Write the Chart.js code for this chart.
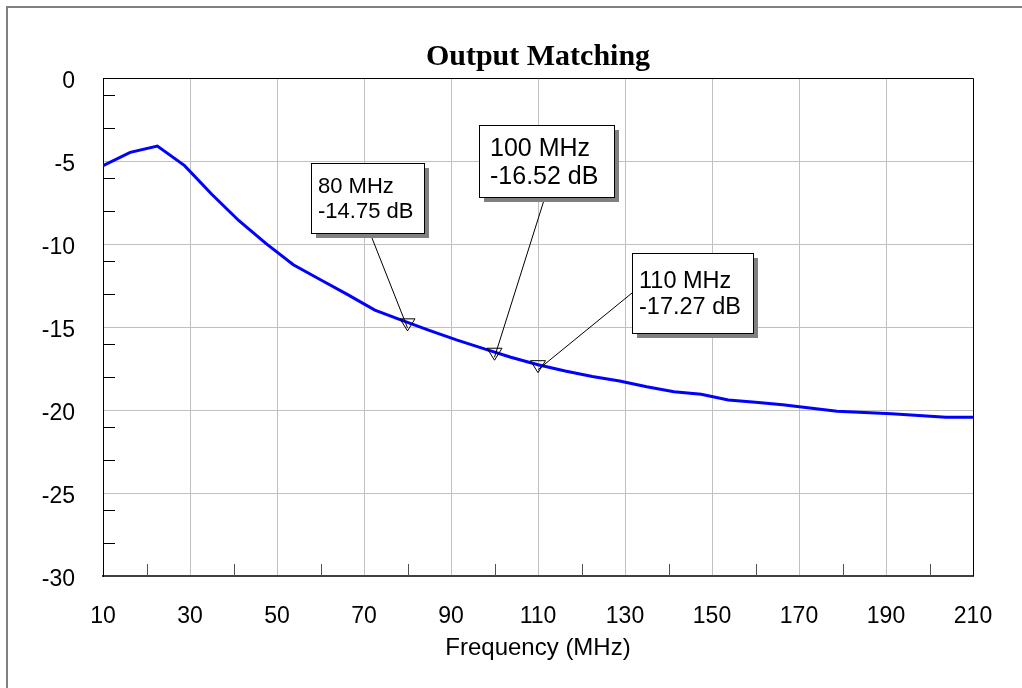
<!DOCTYPE html>
<html>
<head>
<meta charset="utf-8">
<script src="https://cdn.jsdelivr.net/npm/chart.js@4.4.0/dist/chart.umd.min.js"></script>
<style>
  html, body { margin: 0; padding: 0; background: #ffffff; }
  #wrap { width: 1022px; height: 688px; }
</style>
</head>
<body>
<div id="wrap"><canvas id="c" width="1022" height="688"></canvas></div>
<script>
// ---- data ----
const titleText = 'Output Matching';
const xTitle = 'Frequency (MHz)';
const freqMHz = [10, 16.25, 22.5, 28.75, 35, 41.25, 47.5, 53.75, 60, 66.25, 72.5, 78.75, 85, 91.25, 97.5, 103.75, 110, 116.25, 122.5, 128.75, 135, 141.25, 147.5, 153.75, 160, 166.25, 172.5, 178.75, 185, 191.25, 197.5, 203.75, 210];
const outputDb = [-5.28, -4.48, -4.10, -5.28, -7.0, -8.6, -9.98, -11.25, -12.15, -13.05, -13.98, -14.6, -15.2, -15.78, -16.3, -16.82, -17.27, -17.65, -17.98, -18.25, -18.6, -18.9, -19.05, -19.4, -19.53, -19.68, -19.88, -20.08, -20.15, -20.22, -20.33, -20.44, -20.44];
const markerFreq = [80, 100, 110];
const markerDb = [-14.75, -16.52, -17.27];
const xTickValues = [10, 30, 50, 70, 90, 110, 130, 150, 170, 190, 210];
const yTickValues = [-30, -25, -20, -15, -10, -5, 0];
const xMinorTicks = [20, 40, 60, 80, 100, 120, 140, 160, 180, 200];
const yMinorTicks = [-1, -3, -6, -8, -11, -13, -16, -18, -21, -23, -26, -28];

// ---- layout of marker boxes (canvas pixels) ----
const boxLayout = [
  { x: 311, y: 163, w: 113, h: 70, tx: 318, b1: 193, b2: 218, ax: 370, ay: 233, fs: 22 },
  { x: 479, y: 125, w: 135, h: 72, tx: 490, b1: 156, b2: 184, ax: 545, ay: 197, fs: 25 },
  { x: 632, y: 253, w: 121, h: 80, tx: 639, b1: 288, b2: 314, ax: 632, ay: 293, fs: 23.5 }
];

const points = freqMHz.map((f, i) => ({ x: f, y: outputDb[i] }));

const framePlugin = {
  id: 'frame',
  beforeDraw(chart) {
    const ctx = chart.ctx;
    ctx.save();
    ctx.fillStyle = '#ffffff';
    ctx.fillRect(0, 0, chart.width, chart.height);
    ctx.strokeStyle = '#808080';
    ctx.lineWidth = 2;
    ctx.beginPath();
    ctx.moveTo(7, chart.height + 5);
    ctx.lineTo(7, 7);
    ctx.lineTo(chart.width + 5, 7);
    ctx.stroke();
    ctx.restore();
  },
  afterDraw(chart) {
    const ctx = chart.ctx;
    const a = chart.chartArea;
    const xs = chart.scales.x, ys = chart.scales.y;
    ctx.save();
    // top and right border of plot
    ctx.strokeStyle = '#000000';
    ctx.lineWidth = 1;
    ctx.beginPath();
    ctx.moveTo(a.left, a.top + 0.5);
    ctx.lineTo(a.right + 0.5, a.top + 0.5);
    ctx.lineTo(a.right + 0.5, a.bottom);
    ctx.stroke();
    // minor ticks
    ctx.strokeStyle = '#505050';
    ctx.beginPath();
    xMinorTicks.forEach(v => {
      const px = Math.round(xs.getPixelForValue(v)) + 0.5;
      ctx.moveTo(px, a.bottom);
      ctx.lineTo(px, a.bottom - 12);
    });
    ctx.stroke();
    ctx.strokeStyle = '#000000';
    ctx.beginPath();
    yMinorTicks.forEach(v => {
      const py = Math.round(ys.getPixelForValue(v)) + 0.5;
      ctx.moveTo(a.left, py);
      ctx.lineTo(a.left + 12, py);
    });
    ctx.stroke();

    // markers, leaders and boxes
    markerFreq.forEach((f, i) => {
      const px = xs.getPixelForValue(f);
      const py = ys.getPixelForValue(markerDb[i]);
      const b = boxLayout[i];
      // leader
      ctx.strokeStyle = '#000000';
      ctx.lineWidth = 1;
      ctx.beginPath();
      ctx.moveTo(b.ax, b.ay);
      ctx.lineTo(px, py + 5);
      ctx.stroke();
      // triangle
      ctx.beginPath();
      ctx.moveTo(px - 7.5, py - 4);
      ctx.lineTo(px + 7.5, py - 4);
      ctx.lineTo(px, py + 8);
      ctx.closePath();
      ctx.stroke();
      // shadow
      ctx.fillStyle = '#808080';
      ctx.fillRect(b.x + 5, b.y + 5, b.w, b.h);
      // box
      ctx.fillStyle = '#ffffff';
      ctx.fillRect(b.x, b.y, b.w, b.h);
      ctx.strokeStyle = '#000000';
      ctx.strokeRect(b.x + 0.5, b.y + 0.5, b.w, b.h);
      // text
      ctx.font = b.fs + 'px "Liberation Sans", Arial, sans-serif';
      ctx.fillStyle = '#000000';
      ctx.textAlign = 'left';
      ctx.textBaseline = 'alphabetic';
      ctx.fillText(f + ' MHz', b.tx, b.b1);
      ctx.fillText(markerDb[i].toFixed(2) + ' dB', b.tx, b.b2);
    });
    ctx.restore();
  }
};

new Chart(document.getElementById('c'), {
  type: 'line',
  data: {
    datasets: [{
      data: points,
      borderColor: '#0000ff',
      borderWidth: 3,
      pointRadius: 0,
      tension: 0,
      fill: false
    }]
  },
  options: {
    responsive: false,
    animation: false,
    devicePixelRatio: 1,
    layout: { padding: { left: 0, right: 49, top: 0, bottom: 0 } },
    plugins: {
      legend: { display: false },
      tooltip: { enabled: false },
      title: {
        display: true,
        fullSize: false,
        text: titleText,
        color: '#000000',
        font: { family: '"Liberation Serif", "Times New Roman", serif', size: 30, weight: 'bold', lineHeight: 1.2 },
        padding: { top: 39, bottom: 3 }
      }
    },
    scales: {
      x: {
        type: 'linear',
        min: 10,
        max: 210,
        afterBuildTicks(scale) {
          scale.ticks = xTickValues.map(v => ({ value: v }));
        },
        afterFit(scale) { scale.height = 112; },
        grid: { color: '#c0c0c0', lineWidth: 1, drawTicks: false },
        border: { display: true, color: '#404040', width: 2 },
        ticks: {
          color: '#000000',
          padding: 27,
          maxRotation: 0,
          font: { family: '"Liberation Sans", Arial, sans-serif', size: 23 }
        },
        title: {
          display: true,
          text: xTitle,
          color: '#000000',
          font: { family: '"Liberation Sans", Arial, sans-serif', size: 24, lineHeight: 1.2 },
          padding: { top: 0, bottom: 25 }
        }
      },
      y: {
        type: 'linear',
        min: -30,
        max: 0,
        afterBuildTicks(scale) {
          scale.ticks = yTickValues.map(v => ({ value: v }));
        },
        afterFit(scale) { scale.width = 103; },
        grid: { color: '#c0c0c0', lineWidth: 1, drawTicks: false },
        border: { display: true, color: '#000000', width: 1 },
        ticks: {
          color: '#000000',
          padding: 28,
          font: { family: '"Liberation Sans", Arial, sans-serif', size: 23, lineHeight: 0.35 },
          callback: (v) => ['', String(v)]
        }
      }
    }
  },
  plugins: [framePlugin]
});
</script>
</body>
</html>
